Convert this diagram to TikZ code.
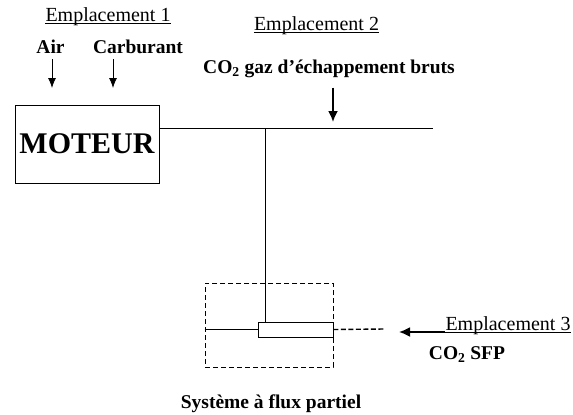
\documentclass[tikz,border=0pt]{standalone}
\usepackage{fontspec}
\setmainfont{Liberation Serif}
\usetikzlibrary{arrows.meta}
\begin{document}
\begin{tikzpicture}[x=1pt,y=-1pt,
  lbl/.style={inner sep=0pt,anchor=base,font=\fontsize{20}{22}\selectfont},
  blbl/.style={inner sep=0pt,anchor=base,font=\fontsize{19.5}{22}\selectfont\bfseries},
  thinarr/.style={line width=0.8pt,-{Latex[length=10pt,width=8pt]}},
  thickarr/.style={line width=1.8pt,-{Latex[length=11pt,width=10pt]}},
  pipe/.style={line width=0.9pt},
  uline/.style={line width=0.8pt}]
\useasboundingbox (0,0) rectangle (573,415);
% labels
\node[lbl] (e1) at (108,21) {Emplacement 1};
\draw[uline] ([yshift=-2pt]e1.base west) -- ([yshift=-2pt]e1.base east);
\node[lbl] (e2) at (316.5,30) {Emplacement 2};
\draw[uline] ([yshift=-2pt]e2.base west) -- ([yshift=-2pt]e2.base east);
\node[lbl] (e3) at (508,330) {Emplacement 3};
\draw[uline] ([yshift=-2pt]e3.base west) -- ([yshift=-2pt]e3.base east);
\node[blbl] (air) at (50.5,53) {Air};
\node[blbl] (carb) at (138,53) {Carburant};
\node[blbl] (co2) at (329,73) {CO\textsubscript{2} gaz d’échappement bruts};
\node[blbl] (co2sfp) at (467,359) {CO\textsubscript{2} SFP};
\node[blbl] (sys) at (271,408) {Système à flux partiel};
% engine
\node[draw,line width=0.9pt,minimum width=144pt,minimum height=78pt,inner sep=0pt,
  font=\fontsize{30}{32}\selectfont\bfseries] (moteur) at (87,144) {MOTEUR};
% coordinates
\coordinate (airtip) at (52,88);
\coordinate (carbtip) at (113,88);
\coordinate (co2tip) at (333,122);
\coordinate (pipeend) at (433,128);
\coordinate (junction) at (265,128);
\coordinate (dashend) at (385,329);
\coordinate (sfptip) at (399,332);
% partial flow system
\node[draw,dash pattern=on 5pt off 3pt,line width=0.8pt,minimum width=128pt,minimum height=84pt,inner sep=0pt] (sfpbox) at (269,325) {};
\node[draw,line width=0.9pt,minimum width=75pt,minimum height=15pt,inner sep=0pt] (probe) at (295.5,329.5) {};
% arrows
\draw[thinarr] (air.south -| airtip) ++(0,6) -- (airtip);
\draw[thinarr] (carb.south -| carbtip) ++(0,6) -- (carbtip);
\draw[thickarr] (co2.south -| co2tip) ++(0,10) -- (co2tip);
\draw[thickarr] ([yshift=-2pt]e3.base west) -- (sfptip);
% pipes
\draw[pipe] (moteur.east |- pipeend) -- (pipeend);
\draw[pipe] (junction) -- (probe.north -| junction);
\draw[pipe] (sfpbox.west |- probe) -- (probe.west);
\draw[pipe,dash pattern=on 5pt off 2.5pt,line width=1.4pt] (probe.east) -- (dashend);
\end{tikzpicture}
\end{document}
